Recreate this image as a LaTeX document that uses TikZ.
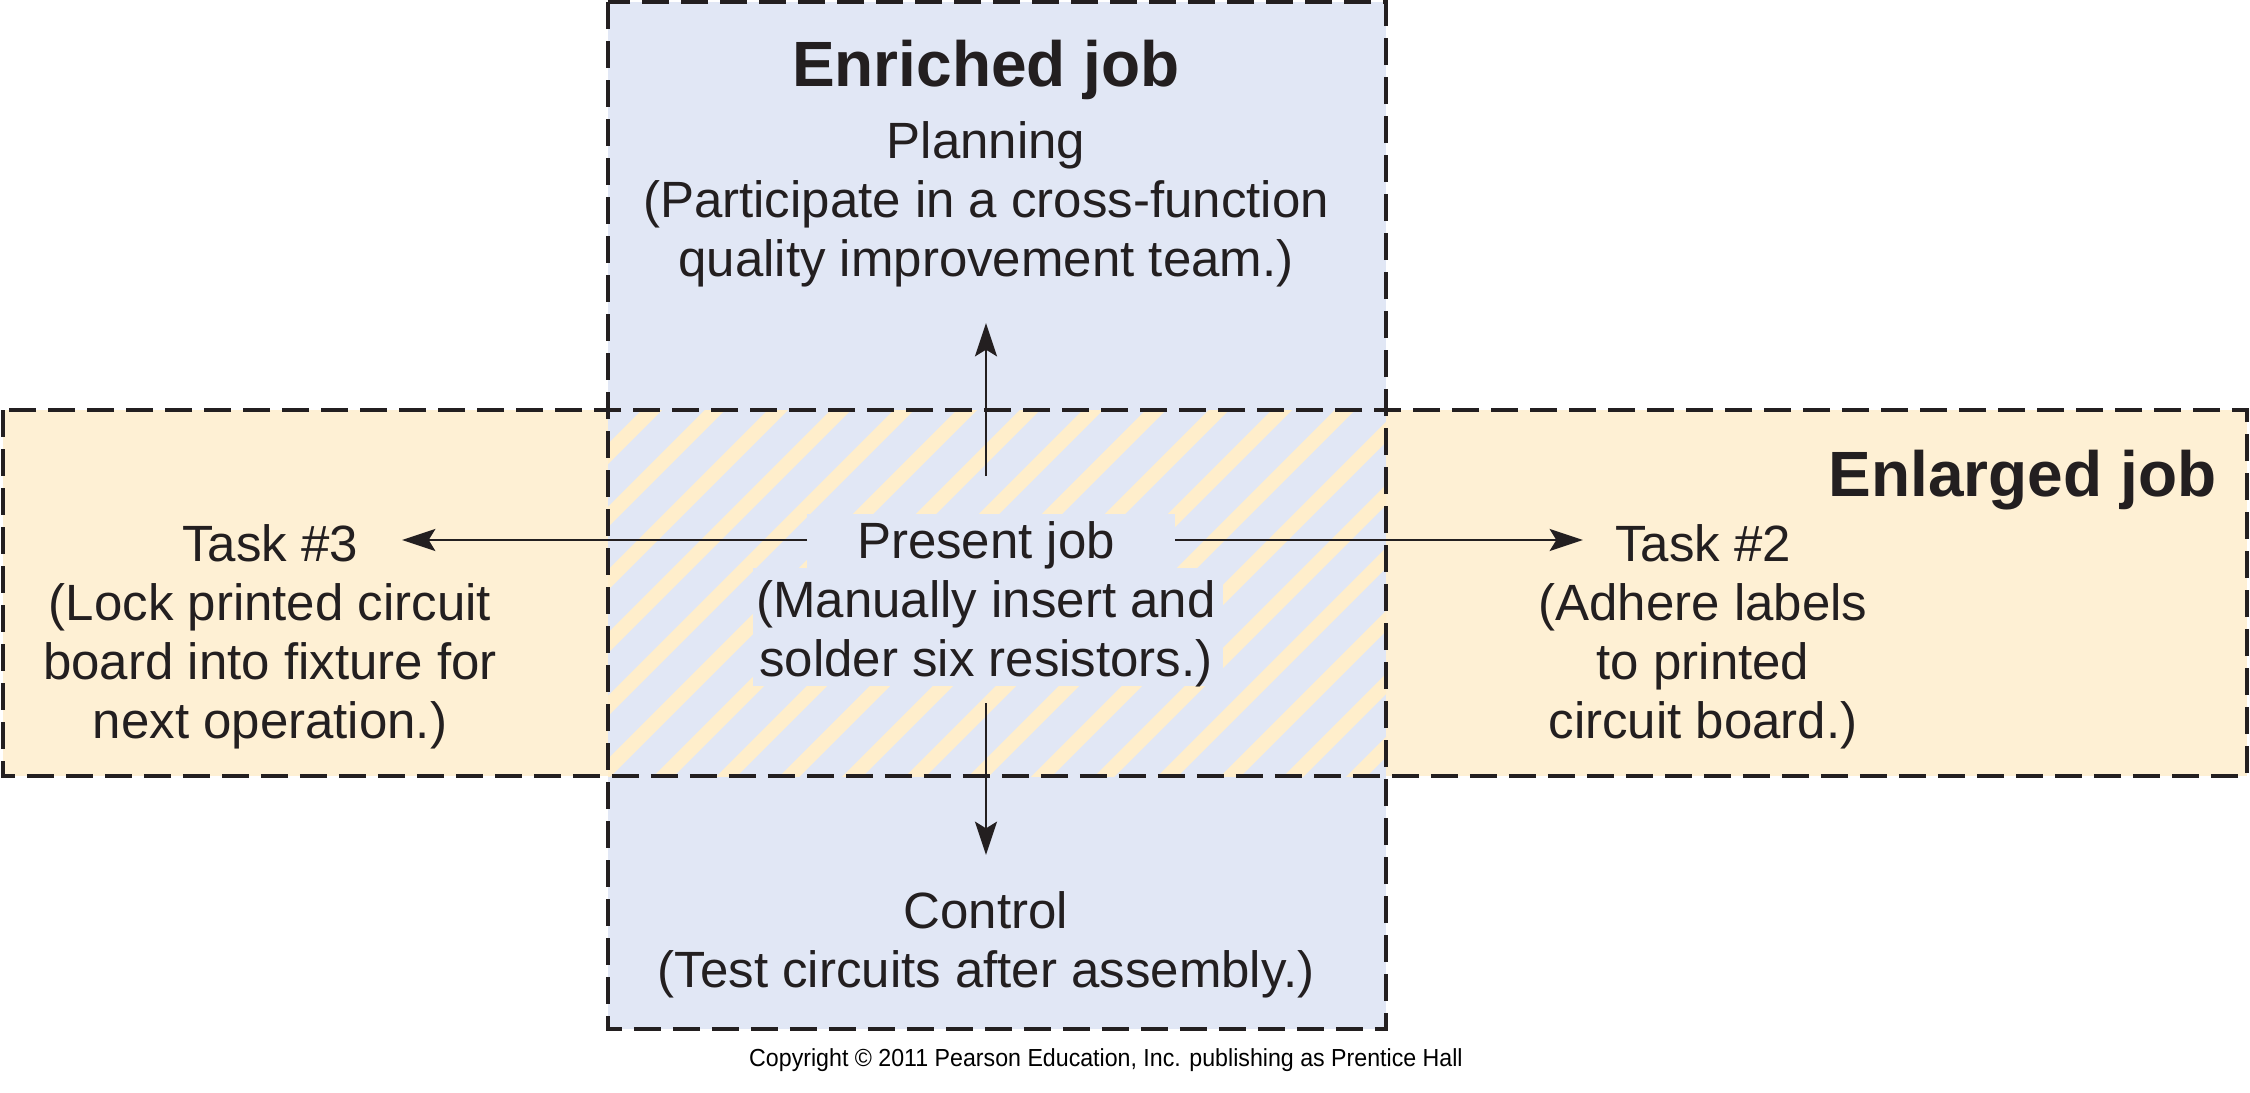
\documentclass[tikz,border=0pt]{standalone}
\usepackage{fontspec}
\setmainfont{Liberation Sans}
\usetikzlibrary{arrows.meta}
\definecolor{blueF}{HTML}{E1E7F5}
\definecolor{yelF}{HTML}{FEF0D4}
\definecolor{stripeC}{HTML}{FFEECB}
\definecolor{inkC}{HTML}{231F20}
\begin{document}
\begin{tikzpicture}[x=0.3pt,y=-0.3pt,
  body/.style={font=\fontsize{15.3pt}{17.7pt}\selectfont, align=center, inner sep=0pt, text=inkC},
  title/.style={font=\fontsize{19.2pt}{22pt}\selectfont\bfseries, inner sep=0pt, text=inkC},
  border/.style={draw=inkC, line width=1pt, dash pattern=on 8.1pt off 3.6pt},
  arr/.style={draw=inkC, line width=0.8pt, -{Stealth[length=10pt,width=6.6pt,inset=2pt]}},
  stripe/.style={draw=stripeC, line width=4.3pt}]
\useasboundingbox (0,0) rectangle (2250,1093);
% fills
\fill[yelF] (3,410) rectangle (2247,776);
\fill[blueF] (608,2) rectangle (1386,1029);
\begin{scope}
  \clip (608,410) rectangle (1386,776);
  \foreach \c in {999,1062,...,2250} \draw[stripe] (\c-840,840) -- (\c-360,360);
\end{scope}
% background behind the present job text
\fill[blueF] (807,514) rectangle (1175,572);
\fill[blueF] (753,568) rectangle (1223,686);
% dashed borders
\draw[border] (3,410) rectangle (2247,776);
\draw[border] (608,2) rectangle (1386,1029);
% texts
\node[title] (enr) at (986,70) {Enriched job};
\node[title, anchor=east] (enl) at (2217,480) {Enlarged job};
\node[body] (plan) at (986,204) {Planning\\(Participate in a cross-function\\quality improvement team.)};
\node[body] (pres) at (986,604) {Present job\\(Manually insert and\\solder six resistors.)};
\node[body] (ctrl) at (986,945) {Control\\(Test circuits after assembly.)};
\node[body] (t3) at (270,637) {Task \#3\\(Lock printed circuit\\board into fixture for\\next operation.)};
\node[body] (t2) at (1703,637) {Task \#2\\(Adhere labels\\to printed\\circuit board.)};
\node[font=\fontsize{7.4pt}{8.8pt}\selectfont, inner sep=0pt, text=black] (copy) at (1106,1060) {\scalebox{0.94}[1]{Copyright © 2011 Pearson Education, Inc. publishing as Prentice Hall}};
% arrow end points
\coordinate (pW) at (807,540); \coordinate (t3E) at (402,540);
\coordinate (pE) at (1175,540); \coordinate (t2W) at (1583,540);
\coordinate (pN) at (986,476); \coordinate (plS) at (986,323);
\coordinate (pS) at (986,703); \coordinate (ctN) at (986,855);
\draw[arr] (pW) -- (t3E);
\draw[arr] (pE) -- (t2W);
\draw[arr] (pN) -- (plS);
\draw[arr] (pS) -- (ctN);
\end{tikzpicture}
\end{document}
